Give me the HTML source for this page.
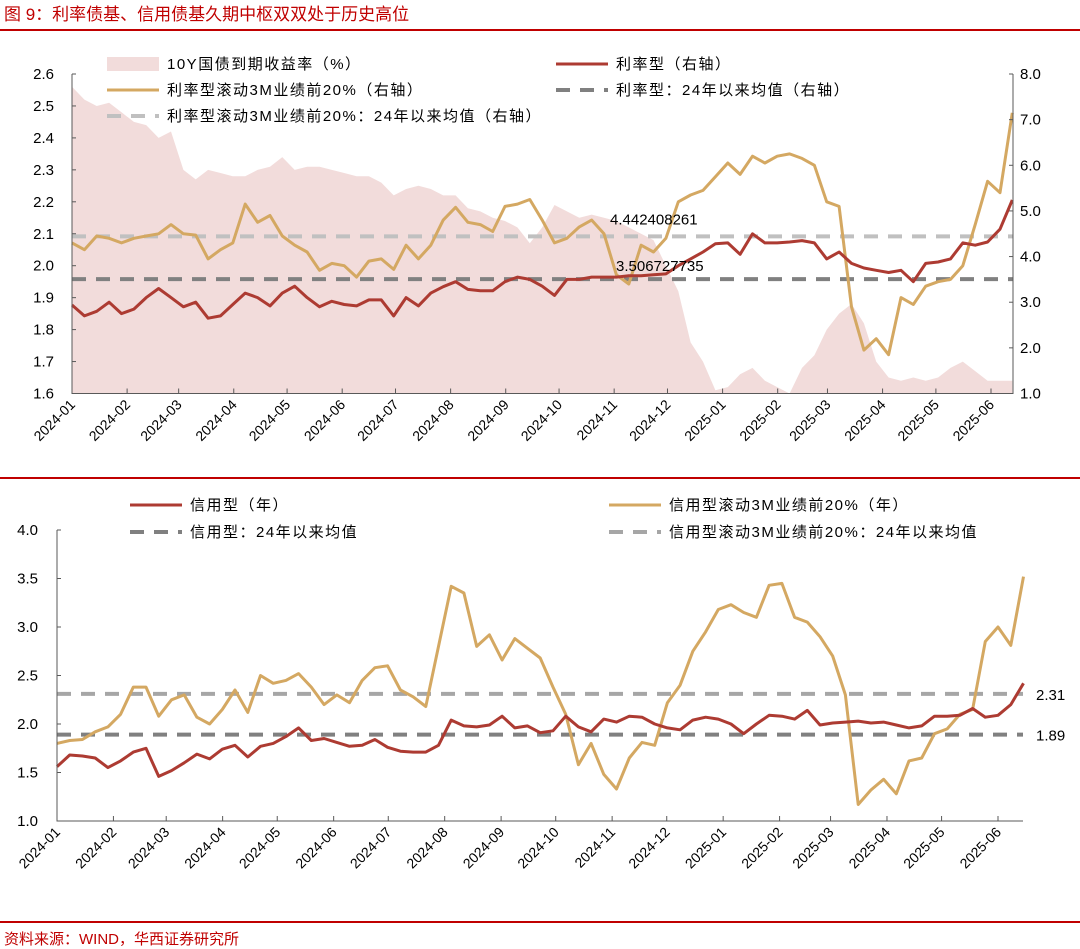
<!DOCTYPE html>
<html><head><meta charset="utf-8">
<style>
body{margin:0;background:#fff;}
svg{display:block;font-family:"Liberation Sans","Noto Sans CJK SC",sans-serif;}
</style></head>
<body>
<svg id="c" width="1080" height="949" viewBox="0 0 1080 949">
<text x="4" y="20" font-size="17" fill="#c00000">图 9：利率债基、信用债基久期中枢双双处于历史高位</text>
<rect x="0" y="29" width="1080" height="2" fill="#c00000"/>
<rect x="0" y="477" width="1080" height="2" fill="#c00000"/>
<rect x="0" y="921" width="1080" height="2" fill="#c00000"/>
<text x="4" y="944" font-size="15" fill="#c00000">资料来源：WIND，华西证券研究所</text>
<g id="top"></g>
<g id="bot"></g>
</svg>
<script>
// ---- data ----
const monthLabels = ["2024-01","2024-02","2024-03","2024-04","2024-05","2024-06","2024-07","2024-08","2024-09","2024-10","2024-11","2024-12","2025-01","2025-02","2025-03","2025-04","2025-05","2025-06"];
const monthDays = [0,31,60,91,121,152,182,213,244,274,305,335,366,397,425,456,486,517];
const topEndDay = 529;
const botEndDay = 531;
const yield10y = [2.56,2.52,2.50,2.51,2.48,2.45,2.44,2.40,2.42,2.30,2.27,2.30,2.29,2.28,2.28,2.30,2.31,2.34,2.30,2.31,2.31,2.30,2.29,2.28,2.28,2.26,2.22,2.24,2.25,2.24,2.22,2.22,2.18,2.17,2.15,2.14,2.12,2.07,2.12,2.19,2.17,2.15,2.16,2.15,2.14,2.12,2.10,2.08,2.00,1.92,1.76,1.70,1.61,1.62,1.66,1.68,1.64,1.62,1.60,1.68,1.72,1.80,1.85,1.88,1.82,1.70,1.65,1.64,1.65,1.64,1.65,1.68,1.70,1.67,1.64,1.64,1.64];
const rateType = [2.94,2.70,2.80,3.00,2.75,2.85,3.10,3.30,3.10,2.90,3.00,2.65,2.70,2.95,3.20,3.10,2.92,3.20,3.35,3.10,2.90,3.02,2.95,2.92,3.05,3.05,2.70,3.10,2.92,3.20,3.34,3.45,3.28,3.25,3.25,3.45,3.55,3.50,3.35,3.15,3.50,3.50,3.55,3.55,3.55,3.58,3.58,3.60,3.62,3.80,3.95,4.10,4.28,4.30,4.05,4.50,4.30,4.30,4.32,4.35,4.30,3.95,4.10,3.85,3.75,3.70,3.65,3.70,3.45,3.85,3.88,3.95,4.30,4.25,4.32,4.60,5.24];
const rateTop20 = [4.30,4.15,4.45,4.40,4.30,4.40,4.45,4.50,4.70,4.50,4.47,3.95,4.15,4.30,5.15,4.75,4.90,4.45,4.25,4.10,3.70,3.85,3.80,3.55,3.90,3.95,3.72,4.25,3.95,4.25,4.80,5.08,4.75,4.70,4.55,5.10,5.15,5.25,4.80,4.30,4.40,4.65,4.80,4.50,3.60,3.40,4.25,4.10,4.40,5.20,5.35,5.45,5.75,6.05,5.80,6.20,6.05,6.20,6.25,6.15,6.00,5.20,5.10,2.90,1.95,2.20,1.85,3.10,2.95,3.35,3.45,3.50,3.80,4.70,5.65,5.40,7.15];
const rateTypeAvg = 3.506727735;
const rateTop20Avg = 4.442408261;
const creditType = [1.56,1.68,1.67,1.65,1.55,1.62,1.71,1.75,1.46,1.52,1.60,1.69,1.64,1.74,1.78,1.66,1.77,1.80,1.87,1.96,1.83,1.85,1.81,1.77,1.78,1.84,1.76,1.72,1.71,1.71,1.78,2.04,1.98,1.97,1.99,2.08,1.96,1.98,1.91,1.93,2.08,1.97,1.92,2.05,2.02,2.08,2.07,2.00,1.96,1.94,2.04,2.07,2.05,2.00,1.90,2.00,2.09,2.08,2.05,2.14,1.99,2.01,2.02,2.03,2.01,2.02,1.99,1.96,1.98,2.08,2.08,2.09,2.16,2.07,2.09,2.20,2.42];
const creditTop20 = [1.80,1.83,1.84,1.92,1.97,2.10,2.38,2.38,2.08,2.25,2.30,2.07,2.00,2.15,2.35,2.12,2.50,2.42,2.45,2.52,2.38,2.20,2.30,2.22,2.45,2.58,2.60,2.35,2.28,2.18,2.80,3.42,3.35,2.80,2.92,2.66,2.88,2.78,2.68,2.38,2.10,1.58,1.80,1.48,1.33,1.65,1.81,1.78,2.22,2.40,2.75,2.95,3.18,3.23,3.15,3.10,3.43,3.45,3.10,3.05,2.90,2.70,2.30,1.17,1.32,1.43,1.28,1.62,1.65,1.90,1.95,2.10,2.15,2.85,3.00,2.81,3.52];
const creditAvg = 1.89;
const creditTop20Avg = 2.31;
const leftTicksTop = [1.6,1.7,1.8,1.9,2.0,2.1,2.2,2.3,2.4,2.5,2.6];
const rightTicksTop = [1,2,3,4,5,6,7,8];
const ticksBot = [1.0,1.5,2.0,2.5,3.0,3.5,4.0];

const NS="http://www.w3.org/2000/svg";
function mk(parent,tag,attrs){const e=document.createElementNS(NS,tag);for(const k in attrs)e.setAttribute(k,attrs[k]);parent.appendChild(e);return e;}
const RED="#ad3b32",GOLD="#d4a862",DARK="#808080",LIGHT="#c0c0c0";

// ---- top chart ----
const T=document.getElementById('top');
const tX0=72,tXe=1013,tY0=393.5,tY1=74;
const txd=d=>tX0+d*(991-72)/517;
const tyL=v=>tY0-(v-1.6)*(tY0-tY1)/1.0;
const tyR=v=>tY0-(v-1)*(tY0-tY1)/7;
const dayOf=(i,n,end)=>i*end/(n-1);
let ap="M"+txd(0)+","+tY0;
yield10y.forEach((v,i)=>{ap+=" L"+txd(dayOf(i,yield10y.length,topEndDay)).toFixed(1)+","+tyL(v).toFixed(1);});
ap+=" L"+txd(topEndDay)+","+tY0+" Z";
let a=mk(T,'path',{d:ap,fill:"#f2dcdb"});


function line(g,arr,xf,yf,end,color,name){
  const p=arr.map((v,i)=>(i?"L":"M")+xf(dayOf(i,arr.length,end)).toFixed(1)+","+yf(v).toFixed(1)).join(" ");
  const e=mk(g,'path',{d:p,fill:"none",stroke:color,"stroke-width":3,"stroke-linejoin":"round"});
  
  
}
function hdash(g,y,x1,x2,color,name){
  const e=mk(g,'line',{x1:x1,x2:x2,y1:y,y2:y,stroke:color,"stroke-width":4,"stroke-dasharray":"14 10"});
  
  
}
hdash(T,tyR(rateTop20Avg),tX0,tXe,LIGHT,'rate-top20-avg-line');
hdash(T,tyR(rateTypeAvg),tX0,tXe,DARK,'rate-avg-line');
line(T,rateTop20,txd,tyR,topEndDay,GOLD,'rate-top20-line');
line(T,rateType,txd,tyR,topEndDay,RED,'rate-type-line');
let t1=mk(T,'text',{x:610,y:tyR(rateTop20Avg)-12,"font-size":15,fill:"#000"});t1.textContent=String(rateTop20Avg);


let t2=mk(T,'text',{x:616,y:tyR(rateTypeAvg)-8,"font-size":15,fill:"#000"});t2.textContent=String(rateTypeAvg);


mk(T,'path',{d:`M${tX0},${tY1} V${tY0} H${tXe} V${tY1}`,fill:"none",stroke:"#595959","stroke-width":1});
leftTicksTop.forEach(v=>{const y=tyL(v);mk(T,'line',{x1:tX0,x2:tX0+4,y1:y,y2:y,stroke:"#595959"});
  const e=mk(T,'text',{x:54,y:y+5,"font-size":15,"text-anchor":"end"});e.textContent=v.toFixed(1);
  
  });
rightTicksTop.forEach(v=>{const y=tyR(v);mk(T,'line',{x1:tXe-4,x2:tXe,y1:y,y2:y,stroke:"#595959"});
  const e=mk(T,'text',{x:1020,y:y+5,"font-size":15});e.textContent=v.toFixed(1);
  
  });
monthDays.forEach((d,i)=>{const x=txd(d);mk(T,'line',{x1:x,x2:x,y1:tY0,y2:tY0-5,stroke:"#595959"});
  const e=mk(T,'text',{x:x+4,y:tY0+12,"font-size":14,"text-anchor":"end",transform:`rotate(-45 ${x+4} ${tY0+12})`});e.textContent=monthLabels[i];
  
  });
function legend(g,x,y,type,color,label,name){
  if(type==='rect')mk(g,'rect',{x:x,y:y-7,width:52,height:14,fill:color});
  else if(type==='line')mk(g,'line',{x1:x,x2:x+52,y1:y,y2:y,stroke:color,"stroke-width":3});
  else mk(g,'line',{x1:x,x2:x+52,y1:y,y2:y,stroke:color,"stroke-width":4,"stroke-dasharray":"14 10"});
  const e=mk(g,'text',{x:x+60,y:y+5,"font-size":15,fill:"#000","letter-spacing":"1.5"});e.textContent=label;
  
  
}
legend(T,107,64,'rect',"#f2dcdb","10Y国债到期收益率（%）",'legend-yield-10y');
legend(T,107,90,'line',GOLD,"利率型滚动3M业绩前20%（右轴）",'legend-rate-top20');
legend(T,107,116,'dash',LIGHT,"利率型滚动3M业绩前20%：24年以来均值（右轴）",'legend-rate-top20-avg');
legend(T,556,64,'line',RED,"利率型（右轴）",'legend-rate-type');
legend(T,556,90,'dash',DARK,"利率型：24年以来均值（右轴）",'legend-rate-avg');

// ---- bottom chart ----
const B=document.getElementById('bot');
const bX0=57,bXe=1023,bY0=821,bY1=530;
const bxd=d=>bX0+d*(998-57)/517;
const by=v=>bY0-(v-1)*(bY0-bY1)/3;
hdash(B,by(creditTop20Avg),bX0,bXe,"#a6a6a6",'credit-top20-avg-line');
hdash(B,by(creditAvg),bX0,bXe,DARK,'credit-avg-line');
line(B,creditTop20,bxd,by,botEndDay,GOLD,'credit-top20-line');
line(B,creditType,bxd,by,botEndDay,RED,'credit-type-line');
let t3=mk(B,'text',{x:1036,y:by(creditTop20Avg)+6,"font-size":15});t3.textContent=creditTop20Avg.toFixed(2);


let t4=mk(B,'text',{x:1036,y:by(creditAvg)+6,"font-size":15});t4.textContent=creditAvg.toFixed(2);


mk(B,'path',{d:`M${bX0},${bY1} V${bY0} H${bXe}`,fill:"none",stroke:"#595959","stroke-width":1});
ticksBot.forEach(v=>{const y=by(v);mk(B,'line',{x1:bX0,x2:bX0+4,y1:y,y2:y,stroke:"#595959"});
  const e=mk(B,'text',{x:38,y:y+5,"font-size":15,"text-anchor":"end"});e.textContent=v.toFixed(1);
  
  });
monthDays.forEach((d,i)=>{const x=bxd(d);mk(B,'line',{x1:x,x2:x,y1:bY0,y2:bY0-5,stroke:"#595959"});
  const e=mk(B,'text',{x:x+4,y:bY0+12,"font-size":14,"text-anchor":"end",transform:`rotate(-45 ${x+4} ${bY0+12})`});e.textContent=monthLabels[i];
  
  });
legend(B,130,505,'line',RED,"信用型（年）",'legend-credit-type');
legend(B,130,532,'dash',DARK,"信用型：24年以来均值",'legend-credit-avg');
legend(B,609,505,'line',GOLD,"信用型滚动3M业绩前20%（年）",'legend-credit-top20');
legend(B,609,532,'dash',"#a6a6a6","信用型滚动3M业绩前20%：24年以来均值",'legend-credit-top20-avg');
</script>
</body></html>
